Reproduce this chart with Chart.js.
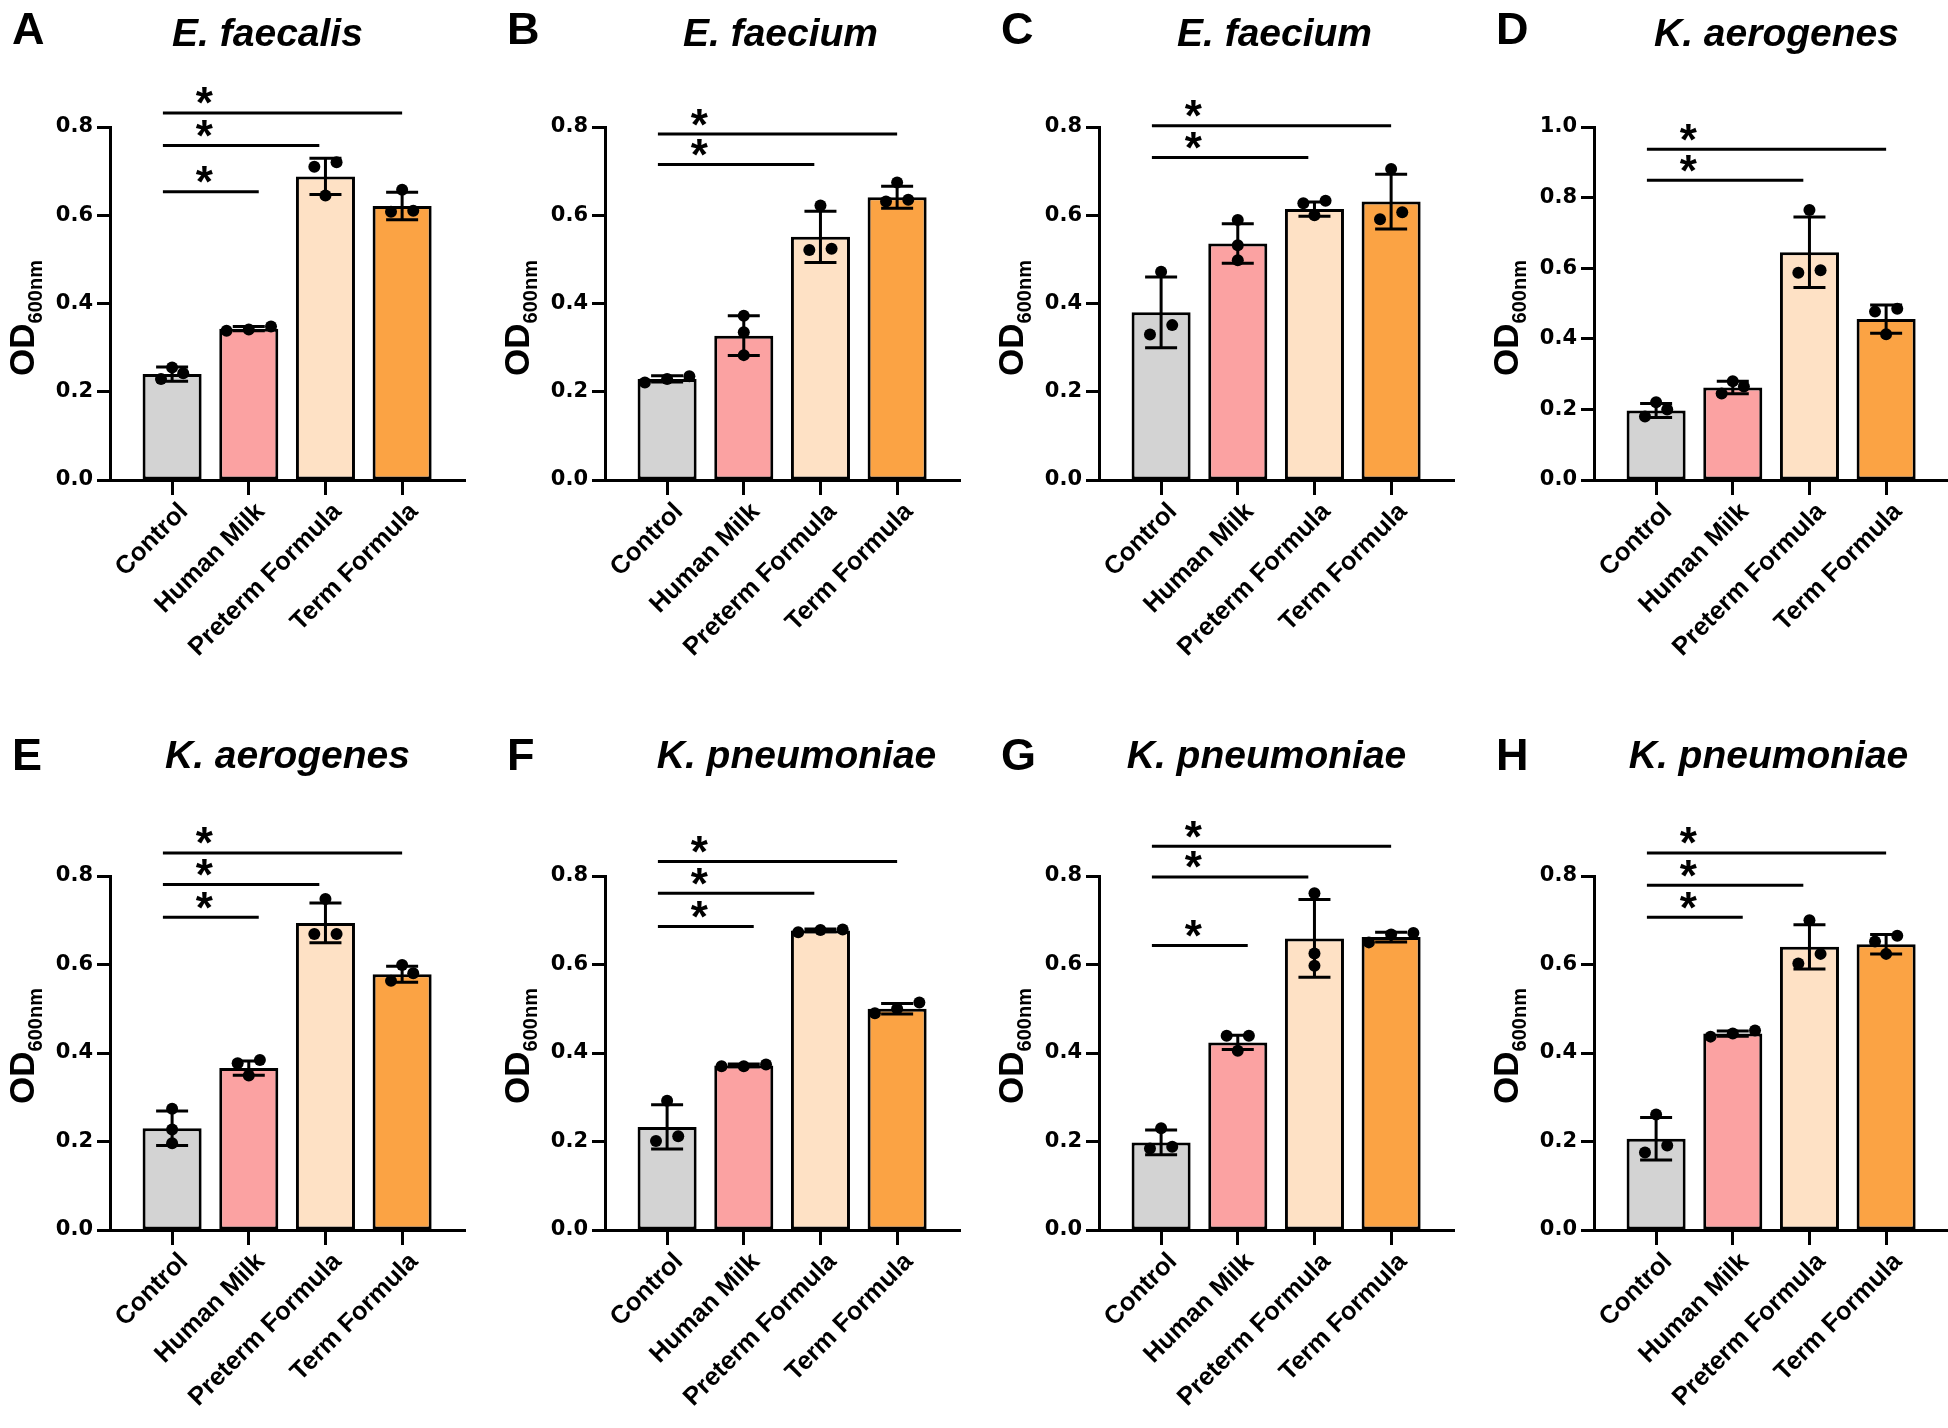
<!DOCTYPE html>
<html>
<head>
<meta charset="utf-8">
<script src="https://cdn.jsdelivr.net/npm/chart.js@4.4.0/dist/chart.umd.min.js"></script>
<style>
html, body { margin:0; padding:0; background:#fff; }
body { position:relative; width:1948px; height:1428px; overflow:hidden; }
canvas { position:absolute; }
</style>
</head>
<body>
<script>
// ---- data ----
const categories = ['Control', 'Human Milk', 'Preterm Formula', 'Term Formula'];
const panelLetters = ['A', 'B', 'C', 'D', 'E', 'F', 'G', 'H'];
const panelTitles = ['E. faecalis', 'E. faecium', 'E. faecium', 'K. aerogenes',
                     'K. aerogenes', 'K. pneumoniae', 'K. pneumoniae', 'K. pneumoniae'];
const yMax = [0.8, 0.8, 0.8, 1.0, 0.8, 0.8, 0.8, 0.8];

const means = [
  [0.240, 0.343, 0.688, 0.621],
  [0.229, 0.327, 0.551, 0.641],
  [0.380, 0.536, 0.614, 0.631],
  [0.197, 0.262, 0.645, 0.456],
  [0.230, 0.366, 0.694, 0.578],
  [0.233, 0.372, 0.677, 0.500],
  [0.198, 0.424, 0.659, 0.662],
  [0.206, 0.444, 0.640, 0.646]
];
const sds = [
  [0.016, 0.005, 0.041, 0.031],
  [0.007, 0.045, 0.058, 0.025],
  [0.080, 0.045, 0.016, 0.062],
  [0.020, 0.018, 0.100, 0.040],
  [0.039, 0.016, 0.045, 0.018],
  [0.050, 0.003, 0.003, 0.012],
  [0.028, 0.016, 0.088, 0.011],
  [0.048, 0.006, 0.050, 0.022]
];
const replicates = [
  [[0.255, 0.242, 0.229], [0.338, 0.348, 0.341], [0.720, 0.710, 0.645], [0.658, 0.610, 0.608]],
  [[0.221, 0.235, 0.229], [0.372, 0.335, 0.283], [0.622, 0.521, 0.524], [0.674, 0.631, 0.635]],
  [[0.472, 0.330, 0.351], [0.589, 0.532, 0.498], [0.633, 0.627, 0.600], [0.705, 0.591, 0.607]],
  [[0.220, 0.180, 0.200], [0.280, 0.245, 0.265], [0.765, 0.587, 0.594], [0.485, 0.477, 0.413]],
  [[0.274, 0.227, 0.196], [0.384, 0.377, 0.349], [0.748, 0.669, 0.669], [0.599, 0.580, 0.563]],
  [[0.292, 0.201, 0.212], [0.370, 0.374, 0.370], [0.673, 0.679, 0.678], [0.514, 0.490, 0.500]],
  [[0.230, 0.184, 0.188], [0.439, 0.439, 0.405], [0.761, 0.625, 0.597], [0.650, 0.671, 0.668]],
  [[0.261, 0.175, 0.191], [0.437, 0.451, 0.444], [0.700, 0.624, 0.602], [0.665, 0.652, 0.624]]
];
// significance: Control vs category index, at bracket height (OD units)
const sigTargets = [[1, 2, 3], [2, 3], [2, 3], [2, 3], [1, 2, 3], [1, 2, 3], [1, 2, 3], [1, 2, 3]];
const sigLevels = [
  [0.653, 0.758, 0.832],
  [0.715, 0.784],
  [0.731, 0.803],
  [0.849, 0.937],
  [0.707, 0.781, 0.852],
  [0.686, 0.761, 0.833],
  [0.643, 0.798, 0.867],
  [0.707, 0.779, 0.852]
];

// ---- layout / style ----
const FONT = '"Liberation Sans", Arial, Helvetica, sans-serif';
const TICK_FONT = '"DejaVu Sans", Verdana, sans-serif';
const barColors = ['#d3d3d3', '#fba2a2', '#fee1c5', '#fba344'];
const colLeft = [0, 495, 989, 1484];
const rows = [
  { top: 0,   areaTop: 127, areaBottom: 480, titleY: 46, letterY: 44, odY: 318 },
  { top: 714, areaTop: 162, areaBottom: 516, titleY: 54, letterY: 56, odY: 332 }
];
const titleNudge = [-20, -2, -2, 5, 0, 14, -10, -3];
const W = 487, H = 714, AXIS_X = 110, AREA_RIGHT = 465;
const sigEndNudge = [0, 0.13, -0.08, 0];

function spreadDots(vals, center, thr) {
  const order = vals.map((v, k) => k).sort((a, b) => vals[a] - vals[b]);
  const groups = [];
  order.forEach(k => {
    const g = groups[groups.length - 1];
    if (g && vals[k] - vals[g[0]] < thr) g.push(k); else groups.push([k]);
  });
  const pts = [];
  groups.forEach(g => g.forEach((k, j) => {
    pts.push({ x: center + (j - (g.length - 1) / 2) * 0.29, y: vals[k] });
  }));
  return pts;
}

const panelPlugin = {
  id: 'panel',
  afterDatasetDraw(chart, args, o) {
    if (args.index !== 0) return;
    // error bars (mean +/- SD), drawn over the bars and under the dots
    const ctx = chart.ctx, xs = chart.scales.x, ys = chart.scales.y;
    ctx.save();
    ctx.strokeStyle = '#000';
    ctx.lineWidth = 3;
    o.means.forEach((m, i) => {
      const x = xs.getPixelForValue(i);
      const y1 = ys.getPixelForValue(m + o.sd[i]);
      const y2 = ys.getPixelForValue(m - o.sd[i]);
      ctx.beginPath();
      ctx.moveTo(x, y1); ctx.lineTo(x, y2);
      ctx.moveTo(x - 16, y1); ctx.lineTo(x + 16, y1);
      ctx.moveTo(x - 16, y2); ctx.lineTo(x + 16, y2);
      ctx.stroke();
    });
    ctx.restore();
  },
  afterDraw(chart, args, o) {
    const ctx = chart.ctx, xs = chart.scales.x, ys = chart.scales.y, a = chart.chartArea;
    ctx.save();
    ctx.fillStyle = '#000';
    ctx.strokeStyle = '#000';
    // panel letter
    ctx.font = 'bold 45px ' + FONT;
    ctx.textAlign = 'left';
    ctx.textBaseline = 'alphabetic';
    ctx.fillText(o.letter, a.left - 98, o.letterY);
    // title
    ctx.font = 'italic bold 39px ' + FONT;
    ctx.textAlign = 'center';
    ctx.fillText(o.title, (a.left + a.right) / 2 + o.nudge, o.titleY);
    // y axis title with subscript
    ctx.save();
    ctx.translate(a.left - 76, o.odY);
    ctx.rotate(-Math.PI / 2);
    ctx.textAlign = 'left';
    ctx.font = 'bold 35px ' + FONT;
    const w1 = ctx.measureText('OD').width;
    ctx.font = 'bold 20px ' + FONT;
    const w2 = ctx.measureText('600nm').width;
    const x0 = -(w1 + w2) / 2;
    ctx.font = 'bold 35px ' + FONT;
    ctx.fillText('OD', x0, 0);
    ctx.font = 'bold 20px ' + FONT;
    ctx.fillText('600nm', x0 + w1, 8);
    ctx.restore();
    // significance bars
    ctx.lineWidth = 3;
    ctx.font = 'bold 44px ' + FONT;
    ctx.textAlign = 'center';
    const mt = ctx.measureText('*');
    const starMid = (mt.actualBoundingBoxAscent - mt.actualBoundingBoxDescent) / 2;
    const starX = xs.getPixelForValue(0.42);
    o.targets.forEach((t, k) => {
      const y = ys.getPixelForValue(o.levels[k]);
      ctx.beginPath();
      ctx.moveTo(xs.getPixelForValue(-0.12), y);
      ctx.lineTo(xs.getPixelForValue(t + sigEndNudge[t]), y);
      ctx.stroke();
      ctx.fillText('*', starX, y - 17 + starMid);
    });
    ctx.restore();
  }
};

for (let p = 0; p < 8; p++) {
  const row = rows[Math.floor(p / 4)];
  const canvas = document.createElement('canvas');
  canvas.width = W;
  canvas.height = H;
  canvas.style.left = colLeft[p % 4] + 'px';
  canvas.style.top = row.top + 'px';
  canvas.style.width = W + 'px';
  canvas.style.height = H + 'px';
  document.body.appendChild(canvas);

  const thr = 0.025 * yMax[p] / 0.8;
  let dots = [];
  replicates[p].forEach((vals, i) => { dots = dots.concat(spreadDots(vals, i, thr)); });

  new Chart(canvas, {
    type: 'bar',
    data: {
      datasets: [
        {
          type: 'bar',
          data: means[p].map((v, i) => ({ x: i, y: v })),
          backgroundColor: barColors,
          borderColor: '#000',
          borderWidth: 3,
          borderSkipped: false,
          categoryPercentage: 1,
          barPercentage: 0.77,
          order: 1
        },
        {
          type: 'scatter',
          data: dots,
          pointRadius: 6,
          pointHoverRadius: 6,
          pointBackgroundColor: '#000',
          pointBorderWidth: 0,
          order: 0
        }
      ]
    },
    options: {
      responsive: false,
      animation: false,
      events: [],
      layout: { padding: { left: 0, right: W - AREA_RIGHT, top: row.areaTop, bottom: 0 } },
      plugins: {
        legend: { display: false },
        tooltip: { enabled: false },
        panel: {
          letter: panelLetters[p], title: panelTitles[p], nudge: titleNudge[p],
          letterY: row.letterY, titleY: row.titleY, odY: row.odY,
          means: means[p], sd: sds[p],
          targets: sigTargets[p], levels: sigLevels[p]
        }
      },
      scales: {
        x: {
          type: 'linear',
          min: -0.81,
          max: 3.82,
          offset: false,
          afterBuildTicks: s => { s.ticks = categories.map((c, i) => ({ value: i })); },
          afterFit: s => { s.height = H - row.areaBottom; },
          ticks: {
            callback: v => categories[v],
            minRotation: 45,
            maxRotation: 45,
            autoSkip: false,
            color: '#000',
            font: { family: FONT, size: 25.5, weight: 'bold' },
            labelOffset: 12,
            padding: 2
          },
          grid: { offset: false, drawOnChartArea: false, tickLength: 15, tickWidth: 3, tickColor: '#000' },
          border: { width: 3, color: '#000' }
        },
        y: {
          min: 0,
          max: yMax[p],
          afterFit: s => { s.width = AXIS_X; },
          ticks: {
            stepSize: 0.2,
            callback: v => v.toFixed(1),
            color: '#000',
            font: { family: TICK_FONT, size: 21, weight: 'bold' },
            padding: 4
          },
          grid: { drawOnChartArea: false, tickLength: 13, tickWidth: 3, tickColor: '#000' },
          border: { width: 3, color: '#000' }
        }
      }
    },
    plugins: [panelPlugin]
  });
}
</script>
</body>
</html>
